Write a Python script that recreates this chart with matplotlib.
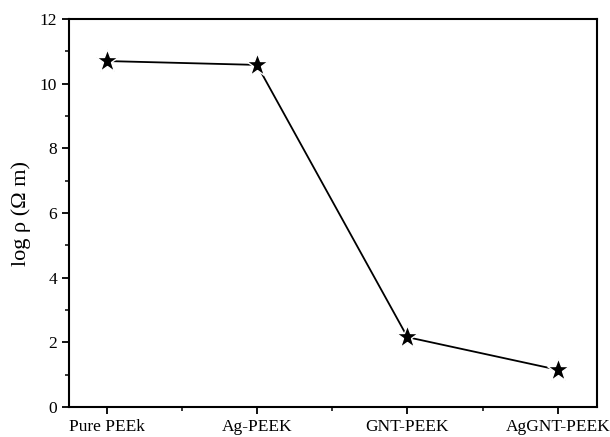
import matplotlib
matplotlib.use('Agg')
import matplotlib.pyplot as plt
from matplotlib.ticker import MultipleLocator

SAMPLES = ['Pure PEEk', 'Ag-PEEK', 'GNT-PEEK', 'AgGNT-PEEK']
LOG_RHO = [10.7, 10.58, 2.16, 1.15]

plt.rcParams['font.family'] = ['Liberation Serif', 'DejaVu Serif']

fig = plt.figure(figsize=(6.10, 4.37), dpi=100)
ax = fig.add_axes([69 / 610, 1 - 407 / 437, (597 - 69) / 610, (407 - 19) / 437])

x = list(range(len(SAMPLES)))
ax.plot(x, LOG_RHO, color='black', lw=1.3, marker='*', markersize=17,
        markerfacecolor='black', markeredgecolor='white', markeredgewidth=1.0)

ax.set_xlim(-0.25, 3.26)
ax.set_ylim(0, 12)
ax.set_xticks(x)
ax.set_xticklabels(SAMPLES, fontsize=12)
ax.xaxis.set_minor_locator(MultipleLocator(0.5))
ax.yaxis.set_major_locator(MultipleLocator(2))
ax.yaxis.set_minor_locator(MultipleLocator(1))
ax.tick_params(axis='both', which='major', direction='out', length=5, width=1.3, labelsize=12.5, colors='black')
ax.tick_params(axis='both', which='minor', direction='out', length=3, width=1.1)
ax.tick_params(top=False, right=False, which='both')
for s in ax.spines.values():
    s.set_linewidth(1.5)

ax.set_ylabel('log ρ (Ω m)', fontsize=16, labelpad=6)

fig.savefig('out.png', dpi=100)
